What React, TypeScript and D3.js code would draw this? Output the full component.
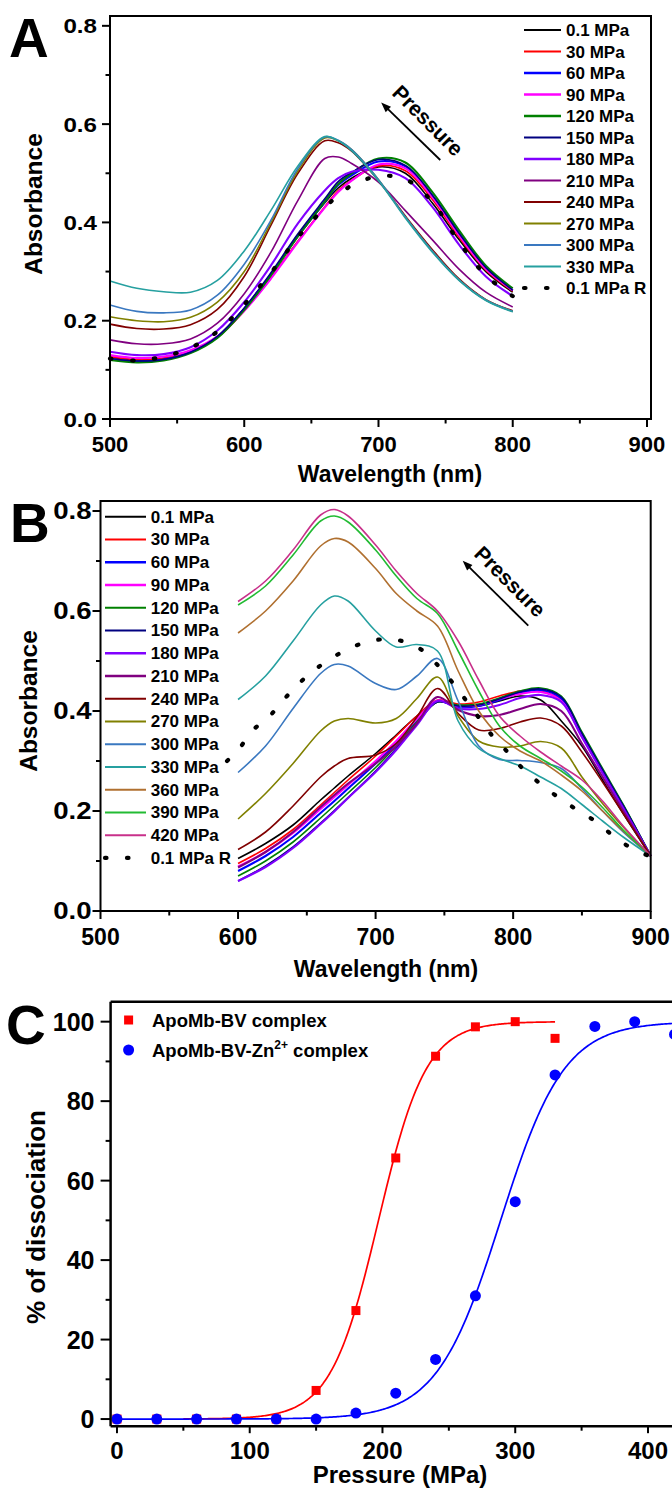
import React from "react";
import * as d3 from "d3";

const FONT = "'Liberation Sans', Arial, Helvetica, sans-serif";

// ================= Panel A =================
const A_WL = [500, 520, 540, 560, 580, 600, 620, 640, 660, 670, 680, 700, 720, 740, 760, 780, 800];
const A_LABELS = ["0.1 MPa", "30 MPa", "60 MPa", "90 MPa", "120 MPa", "150 MPa", "180 MPa", "210 MPa", "240 MPa", "270 MPa", "300 MPa", "330 MPa", "0.1 MPa R"];
const A_COLORS = ["#000000", "#ff0000", "#0000ff", "#ff00ff", "#008000", "#000080", "#8000ff", "#800080", "#800000", "#808000", "#3a78c0", "#26a0a0", "#000000"];
const A_P0_1 = [0.126, 0.12, 0.123, 0.137, 0.168, 0.225, 0.295, 0.372, 0.44, 0.47, 0.49, 0.513, 0.5, 0.44, 0.365, 0.3, 0.258];
const A_P30 = [0.127, 0.121, 0.124, 0.137, 0.166, 0.22, 0.288, 0.362, 0.432, 0.465, 0.486, 0.515, 0.505, 0.447, 0.37, 0.303, 0.26];
const A_P60 = [0.122, 0.117, 0.121, 0.136, 0.167, 0.224, 0.294, 0.372, 0.442, 0.476, 0.496, 0.524, 0.514, 0.455, 0.377, 0.308, 0.262];
const A_P90 = [0.13, 0.124, 0.127, 0.14, 0.168, 0.22, 0.286, 0.36, 0.43, 0.462, 0.485, 0.518, 0.51, 0.452, 0.374, 0.305, 0.262];
const A_P120 = [0.12, 0.115, 0.119, 0.134, 0.165, 0.222, 0.293, 0.372, 0.443, 0.478, 0.5, 0.53, 0.522, 0.462, 0.384, 0.312, 0.266];
const A_P150 = [0.123, 0.118, 0.121, 0.136, 0.168, 0.226, 0.298, 0.377, 0.448, 0.483, 0.502, 0.528, 0.516, 0.456, 0.378, 0.308, 0.262];
const A_P180 = [0.137, 0.13, 0.132, 0.146, 0.18, 0.238, 0.313, 0.398, 0.465, 0.49, 0.503, 0.507, 0.49, 0.432, 0.355, 0.29, 0.25];
const A_P210 = [0.161, 0.153, 0.153, 0.163, 0.195, 0.255, 0.34, 0.445, 0.53, 0.533, 0.52, 0.482, 0.424, 0.365, 0.305, 0.258, 0.228];
const A_P240 = [0.193, 0.184, 0.183, 0.192, 0.223, 0.29, 0.395, 0.5, 0.566, 0.562, 0.545, 0.485, 0.413, 0.345, 0.285, 0.243, 0.22];
const A_P270 = [0.208, 0.2, 0.198, 0.207, 0.238, 0.3, 0.4, 0.505, 0.572, 0.566, 0.548, 0.487, 0.411, 0.342, 0.283, 0.242, 0.219];
const A_P300 = [0.232, 0.219, 0.216, 0.222, 0.252, 0.315, 0.405, 0.51, 0.574, 0.567, 0.548, 0.487, 0.411, 0.342, 0.283, 0.242, 0.219];
const A_P330 = [0.281, 0.266, 0.259, 0.258, 0.282, 0.342, 0.425, 0.515, 0.575, 0.566, 0.546, 0.485, 0.409, 0.34, 0.282, 0.241, 0.218];
const A_R = [0.123, 0.119, 0.127, 0.145, 0.178, 0.233, 0.298, 0.37, 0.43, 0.455, 0.475, 0.494, 0.488, 0.442, 0.36, 0.292, 0.25];
const A_SERIES = [A_P0_1, A_P30, A_P60, A_P90, A_P120, A_P150, A_P180, A_P210, A_P240, A_P270, A_P300, A_P330, A_R];
const A_X_TICKS = [500, 600, 700, 800, 900];
const A_X_MINOR = [550, 650, 750, 850];
const A_Y_TICKS = [0, 0.2, 0.4, 0.6, 0.8];
const A_Y_MINOR = [0.1, 0.3, 0.5, 0.7];
const A_ARROW = { from: [746, 0.527], to: [702, 0.644], text: [733, 0.5965] };

// ================= Panel B =================
const B_WL = [600, 620, 640, 660, 670, 680, 700, 715, 730, 745, 760, 775, 790, 805, 820, 835, 850, 865, 880, 900];
const B_LABELS = ["0.1 MPa", "30 MPa", "60 MPa", "90 MPa", "120 MPa", "150 MPa", "180 MPa", "210 MPa", "240 MPa", "270 MPa", "300 MPa", "330 MPa", "360 MPa", "390 MPa", "420 MPa", "0.1 MPa R"];
const B_COLORS = ["#000000", "#ff0000", "#0000ff", "#ff00ff", "#008000", "#000080", "#8000ff", "#800080", "#800000", "#808000", "#3a78c0", "#26a0a0", "#b07030", "#22bb33", "#c8308a", "#000000"];
const B_P0_1 = [0.105, 0.135, 0.172, 0.222, 0.246, 0.27, 0.315, 0.352, 0.39, 0.42, 0.41, 0.41, 0.42, 0.43, 0.422, 0.38, 0.33, 0.262, 0.195, 0.11];
const B_P30 = [0.095, 0.125, 0.163, 0.212, 0.237, 0.262, 0.31, 0.35, 0.39, 0.422, 0.414, 0.418, 0.43, 0.44, 0.44, 0.422, 0.35, 0.278, 0.208, 0.11];
const B_P60 = [0.08, 0.11, 0.148, 0.196, 0.22, 0.245, 0.295, 0.336, 0.382, 0.42, 0.408, 0.41, 0.422, 0.436, 0.442, 0.425, 0.352, 0.28, 0.21, 0.11];
const B_P90 = [0.089, 0.118, 0.156, 0.204, 0.228, 0.252, 0.3, 0.34, 0.384, 0.421, 0.41, 0.412, 0.424, 0.434, 0.438, 0.42, 0.348, 0.277, 0.207, 0.11];
const B_P120 = [0.07, 0.1, 0.138, 0.186, 0.211, 0.236, 0.287, 0.33, 0.378, 0.418, 0.412, 0.414, 0.426, 0.44, 0.446, 0.43, 0.358, 0.285, 0.213, 0.11];
const B_P150 = [0.06, 0.09, 0.128, 0.176, 0.201, 0.227, 0.28, 0.325, 0.375, 0.418, 0.41, 0.412, 0.424, 0.438, 0.444, 0.428, 0.355, 0.282, 0.211, 0.11];
const B_P180 = [0.06, 0.088, 0.126, 0.174, 0.199, 0.226, 0.278, 0.322, 0.372, 0.42, 0.405, 0.404, 0.412, 0.426, 0.432, 0.418, 0.348, 0.276, 0.206, 0.11];
const B_P210 = [0.087, 0.118, 0.158, 0.208, 0.232, 0.255, 0.295, 0.33, 0.375, 0.428, 0.402, 0.39, 0.392, 0.404, 0.414, 0.4, 0.335, 0.268, 0.2, 0.11];
const B_P240 = [0.123, 0.158, 0.21, 0.268, 0.29, 0.305, 0.312, 0.335, 0.388, 0.445, 0.395, 0.362, 0.365, 0.378, 0.386, 0.37, 0.318, 0.258, 0.195, 0.11];
const B_P270 = [0.184, 0.235, 0.295, 0.36, 0.38, 0.385, 0.376, 0.385, 0.425, 0.468, 0.39, 0.34, 0.328, 0.33, 0.339, 0.326, 0.268, 0.215, 0.168, 0.11];
const B_P300 = [0.277, 0.33, 0.405, 0.475, 0.493, 0.49, 0.455, 0.443, 0.47, 0.505, 0.42, 0.33, 0.303, 0.301, 0.297, 0.285, 0.245, 0.2, 0.158, 0.11];
const B_P330 = [0.423, 0.47, 0.54, 0.612, 0.63, 0.62, 0.56, 0.528, 0.533, 0.52, 0.38, 0.325, 0.305, 0.29, 0.268, 0.245, 0.213, 0.18, 0.148, 0.11];
const B_P360 = [0.556, 0.6, 0.66, 0.73, 0.745, 0.738, 0.685, 0.635, 0.6, 0.57, 0.48, 0.4, 0.35, 0.32, 0.3, 0.272, 0.24, 0.2, 0.16, 0.11];
const B_P390 = [0.612, 0.65, 0.712, 0.78, 0.79, 0.778, 0.722, 0.67, 0.625, 0.595, 0.52, 0.44, 0.37, 0.33, 0.305, 0.28, 0.248, 0.207, 0.162, 0.11];
const B_P420 = [0.619, 0.66, 0.722, 0.792, 0.803, 0.79, 0.732, 0.68, 0.635, 0.6, 0.54, 0.462, 0.39, 0.35, 0.318, 0.29, 0.262, 0.22, 0.17, 0.11];
const B_R_WL = [592, 600, 611, 623, 633, 645, 657, 670, 684, 700, 716, 732, 744, 755, 765, 775, 785, 797, 808, 820, 833, 846, 860, 872, 884, 898];
const B_R = [0.3, 0.322, 0.362, 0.39, 0.422, 0.457, 0.485, 0.509, 0.529, 0.542, 0.542, 0.525, 0.495, 0.46, 0.424, 0.387, 0.35, 0.315, 0.282, 0.254, 0.227, 0.203, 0.179, 0.152, 0.129, 0.111];
const B_SERIES = [B_P0_1, B_P30, B_P60, B_P90, B_P120, B_P150, B_P180, B_P210, B_P240, B_P270, B_P300, B_P330, B_P360, B_P390, B_P420];
const B_X_TICKS = [500, 600, 700, 800, 900];
const B_X_MINOR = [550, 650, 750, 850];
const B_Y_TICKS = [0, 0.2, 0.4, 0.6, 0.8];
const B_Y_MINOR = [0.1, 0.3, 0.5, 0.7];
const B_ARROW = { from: [811, 0.5706], to: [763.3, 0.7006], text: [794, 0.6486] };

// ================= Panel C =================
const C_P_BV = [0, 30, 60, 90, 120, 150, 180, 210, 240, 270, 300, 330];
const C_D_BV = [0, 0, 0, 0, 0, 7.2, 27.3, 65.7, 91.3, 98.7, 100, 95.8];
const C_P_ZN = [0, 30, 60, 90, 120, 150, 180, 210, 240, 270, 300, 330, 360, 390, 420];
const C_D_ZN = [0, 0, 0, 0, 0, 0, 1.5, 6.5, 15, 31, 54.7, 86.6, 98.8, 100, 96.8];
const C_FIT_BV = { p50: 197, slope: 18, from: 50, to: 330 };
const C_FIT_ZN = { p50: 289, slope: 24, from: 0, to: 440 };
const C_X_TICKS = [0, 100, 200, 300, 400];
const C_X_MINOR = [50, 150, 250, 350];
const C_Y_TICKS = [0, 20, 40, 60, 80, 100];
const C_Y_MINOR = [10, 30, 50, 70, 90];
const C_LEGEND = ["ApoMb-BV complex", "ApoMb-BV-Zn"];

const BOLD = { fontFamily: FONT, fontWeight: 700 as const };

function pathFrom(xs: number[], ys: number[], x: any, y: any) {
  const pts = xs.map((v, i) => [v, ys[i]] as [number, number]);
  return (
    d3
      .line<[number, number]>()
      .x((d) => x(d[0]))
      .y((d) => y(d[1]))
      .curve(d3.curveCatmullRom.alpha(0.5))(pts) || ""
  );
}

function Label({ x, y, text, size, anchor, sx = 1 }: any) {
  return (
    <text
      transform={`translate(${x},${y}) scale(${sx},1)`}
      fontSize={size}
      textAnchor={anchor}
      {...BOLD}
    >
      {text}
    </text>
  );
}

function Arrow({ arrow, x, y }: any) {
  const p1 = [x(arrow.from[0]), y(arrow.from[1])];
  const p2 = [x(arrow.to[0]), y(arrow.to[1])];
  const dx = p2[0] - p1[0];
  const dy = p2[1] - p1[1];
  const L = Math.hypot(dx, dy);
  const ux = dx / L, uy = dy / L;
  const nx = -uy, ny = ux;
  const hl = 10, hw = 3.8;
  const base = [p2[0] - ux * hl, p2[1] - uy * hl];
  const tx = x(arrow.text[0]);
  const ty = y(arrow.text[1]);
  return (
    <g>
      <line x1={p1[0]} y1={p1[1]} x2={base[0] + ux * 3} y2={base[1] + uy * 3} stroke="#000" strokeWidth={1.8} />
      <polygon
        points={`${p2[0]},${p2[1]} ${base[0] + nx * hw},${base[1] + ny * hw} ${base[0] - nx * hw},${base[1] - ny * hw}`}
        fill="#000"
      />
      <text transform={`translate(${tx},${ty}) rotate(45)`} fontSize={21} textAnchor="middle" {...BOLD}>
        Pressure
      </text>
    </g>
  );
}

function SpectraPanel({ cfg }: any) {
  const { x, y } = cfg;
  const [x0] = x.range();
  const [yb, yt] = y.range();
  const fmt = d3.format(".1f");
  const thick = cfg.thick || [];
  return (
    <g>
      {cfg.series.map((vals: number[], i: number) => (
        <path
          key={i}
          d={pathFrom(cfg.wl, vals, x, y)}
          fill="none"
          stroke={cfg.colors[i]}
          strokeWidth={thick.includes(i) ? 2.1 : 1.6}
        />
      ))}
      <path
        d={pathFrom(cfg.rWl, cfg.rVals, x, y)}
        fill="none"
        stroke="#000"
        strokeWidth={4.2}
        strokeLinecap="round"
        strokeDasharray="1.5 20.5"
      />
      <rect x={x0} y={yt} width={cfg.frameRight - x0} height={yb - yt} fill="none" stroke="#000" strokeWidth={2} />
      {cfg.xTicks.map((t: number) => (
        <g key={"xt" + t}>
          <line x1={x(t)} x2={x(t)} y1={yb} y2={yb + 8} stroke="#000" strokeWidth={2} />
          <Label x={x(t)} y={cfg.xLabelBase} text={String(t)} size={cfg.xLabelSize} anchor="middle" />
        </g>
      ))}
      {cfg.xMinor.map((t: number) => (
        <line key={"xm" + t} x1={x(t)} x2={x(t)} y1={yb} y2={yb + 4.5} stroke="#000" strokeWidth={2} />
      ))}
      {cfg.yTicks.map((t: number) => (
        <g key={"yt" + t}>
          <line x1={x0 - 8} x2={x0} y1={y(t)} y2={y(t)} stroke="#000" strokeWidth={2} />
          <Label x={cfg.yLabelRight} y={y(t) + cfg.yLabelDy} text={fmt(t)} size={cfg.yLabelSize} anchor="end" sx={cfg.yLabelSx} />
        </g>
      ))}
      {cfg.yMinor.map((t: number) => (
        <line key={"ym" + t} x1={x0 - 4.5} x2={x0} y1={y(t)} y2={y(t)} stroke="#000" strokeWidth={2} />
      ))}
      <text x={cfg.xTitle[0]} y={cfg.xTitle[1]} fontSize={23} textAnchor="middle" {...BOLD}>
        Wavelength (nm)
      </text>
      <text transform={`translate(${cfg.yTitle[0]},${cfg.yTitle[1]}) rotate(-90)`} fontSize={24.5} textAnchor="middle" {...BOLD}>
        Absorbance
      </text>
      <text x={cfg.letter[1]} y={cfg.letter[2]} fontSize={55} {...BOLD}>
        {cfg.letter[0]}
      </text>
      {cfg.labels.map((lab: string, i: number) => {
        const ly = cfg.legend.y0 + i * cfg.legend.dy;
        const isR = i === cfg.labels.length - 1;
        return (
          <g key={"lg" + i}>
            <line
              x1={cfg.legend.x1}
              x2={cfg.legend.x2}
              y1={ly}
              y2={ly}
              stroke={cfg.colors[i]}
              strokeWidth={isR ? 4.2 : thick.includes(i) ? 2.6 : 2}
              strokeLinecap={isR ? "round" : "butt"}
              strokeDasharray={isR ? "1.5 20.5" : undefined}
            />
            <text x={cfg.legend.tx} y={ly + 6} fontSize={17} {...BOLD}>
              {lab}
            </text>
          </g>
        );
      })}
      <Arrow arrow={cfg.arrow} x={x} y={y} />
    </g>
  );
}

function PanelC() {
  const x = d3.scaleLinear().domain([-4.8, 430]).range([110.6, 687.8]);
  const y = d3.scaleLinear().domain([-1.8, 105]).range([1426.2, 1001.8]);
  const [x0] = x.range();
  const yb = y(-1.8);
  const yt = y(105);
  const fit = (f: any) => {
    const ps = d3.range(f.from, f.to + 0.5, 1);
    const vs = ps.map((p: number) => 100 / (1 + Math.exp((f.p50 - p) / f.slope)));
    return (
      d3
        .line<number>()
        .x((_, i) => x(ps[i]))
        .y((d) => y(d))(vs) || ""
    );
  };
  return (
    <g>
      <path d={fit(C_FIT_BV)} fill="none" stroke="#ff0000" strokeWidth={1.7} />
      <path d={fit(C_FIT_ZN)} fill="none" stroke="#0000ff" strokeWidth={1.7} />
      {C_P_BV.map((p, i) => (
        <rect key={"s" + i} x={x(p) - 4.5} y={y(C_D_BV[i]) - 4.5} width={9} height={9} fill="#ff0000" />
      ))}
      {C_P_ZN.map((p, i) => (
        <circle key={"c" + i} cx={x(p)} cy={y(C_D_ZN[i])} r={5.5} fill="#0000ff" />
      ))}
      <line x1={x0} x2={x0} y1={yt} y2={yb} stroke="#000" strokeWidth={2.5} />
      <line x1={x0} x2={672} y1={yt} y2={yt} stroke="#000" strokeWidth={2.5} />
      <line x1={x0} x2={672} y1={yb} y2={yb} stroke="#000" strokeWidth={2.5} />
      {C_X_TICKS.map((t) => (
        <g key={"cx" + t}>
          <line x1={x(t)} x2={x(t)} y1={yb} y2={yb + 7} stroke="#000" strokeWidth={2} />
          <Label x={x(t)} y={1458.5} text={String(t)} size={24} anchor="middle" />
        </g>
      ))}
      {C_X_MINOR.map((t) => (
        <line key={"cxm" + t} x1={x(t)} x2={x(t)} y1={yb} y2={yb + 4.5} stroke="#000" strokeWidth={2} />
      ))}
      {C_Y_TICKS.map((t) => (
        <g key={"cy" + t}>
          <line x1={x0 - 10} x2={x0} y1={y(t)} y2={y(t)} stroke="#000" strokeWidth={2} />
          <Label x={94.5} y={y(t) + 9} text={String(t)} size={25} anchor="end" />
        </g>
      ))}
      {C_Y_MINOR.map((t) => (
        <line key={"cym" + t} x1={x0 - 5} x2={x0} y1={y(t)} y2={y(t)} stroke="#000" strokeWidth={2} />
      ))}
      <text x={400} y={1483} fontSize={24} textAnchor="middle" {...BOLD}>
        Pressure (MPa)
      </text>
      <text transform="translate(45,1217) rotate(-90)" fontSize={26} textAnchor="middle" {...BOLD}>
        % of dissociation
      </text>
      <text x={6} y={1044} fontSize={55} {...BOLD}>
        C
      </text>
      <rect x={128.6 - 4.5} y={1020 - 4.5} width={9} height={9} fill="#ff0000" />
      <text x={152} y={1027} fontSize={18.5} {...BOLD}>
        {C_LEGEND[0]}
      </text>
      <circle cx={128.6} cy={1050} r={5.5} fill="#0000ff" />
      <text x={152} y={1056.5} fontSize={18.5} {...BOLD}>
        {C_LEGEND[1]}
        <tspan fontSize={12} dy={-8}>2+</tspan>
        <tspan dy={8}> complex</tspan>
      </text>
    </g>
  );
}

export default function App() {
  const cfgA = {
    x: d3.scaleLinear().domain([500, 903]).range([110, 651]),
    y: d3.scaleLinear().domain([0, 0.82]).range([419, 16]),
    frameRight: 651,
    wl: A_WL,
    series: A_SERIES.slice(0, 12),
    rWl: A_WL,
    rVals: A_R,
    colors: A_COLORS,
    labels: A_LABELS,
    thick: [2, 3, 4, 6],
    xTicks: A_X_TICKS,
    xMinor: A_X_MINOR,
    yTicks: A_Y_TICKS,
    yMinor: A_Y_MINOR,
    xLabelBase: 451.5,
    xLabelSize: 22,
    yLabelRight: 97,
    yLabelDy: 7.5,
    yLabelSize: 21,
    yLabelSx: 1.15,
    xTitle: [390, 482],
    yTitle: [42, 204],
    letter: ["A", 9, 57],
    legend: { x1: 524, x2: 561, tx: 566, y0: 30, dy: 21.5 },
    arrow: A_ARROW,
  };
  const cfgB = {
    x: d3.scaleLinear().domain([500, 900]).range([100.5, 650.7]),
    y: d3.scaleLinear().domain([0, 0.82]).range([911, 501]),
    frameRight: 650.7,
    wl: B_WL,
    series: B_SERIES,
    rWl: B_R_WL,
    rVals: B_R,
    colors: B_COLORS,
    labels: B_LABELS,
    thick: [2, 3, 6, 7],
    xTicks: B_X_TICKS,
    xMinor: B_X_MINOR,
    yTicks: B_Y_TICKS,
    yMinor: B_Y_MINOR,
    xLabelBase: 945,
    xLabelSize: 23,
    yLabelRight: 91.5,
    yLabelDy: 8,
    yLabelSize: 23,
    yLabelSx: 1.2,
    xTitle: [386, 977],
    yTitle: [37, 701],
    letter: ["B", 10, 541.5],
    legend: { x1: 105, x2: 146, tx: 150.7, y0: 516.7, dy: 22.75 },
    arrow: B_ARROW,
  };
  return (
    <svg
      width={672}
      height={1490}
      viewBox="0 0 672 1490"
      style={{ position: "absolute", left: 0, top: 0, display: "block", background: "#fff" }}
    >
      <rect x={0} y={0} width={672} height={1490} fill="#fff" />
      <SpectraPanel cfg={cfgA} />
      <SpectraPanel cfg={cfgB} />
      <PanelC />
    </svg>
  );
}
